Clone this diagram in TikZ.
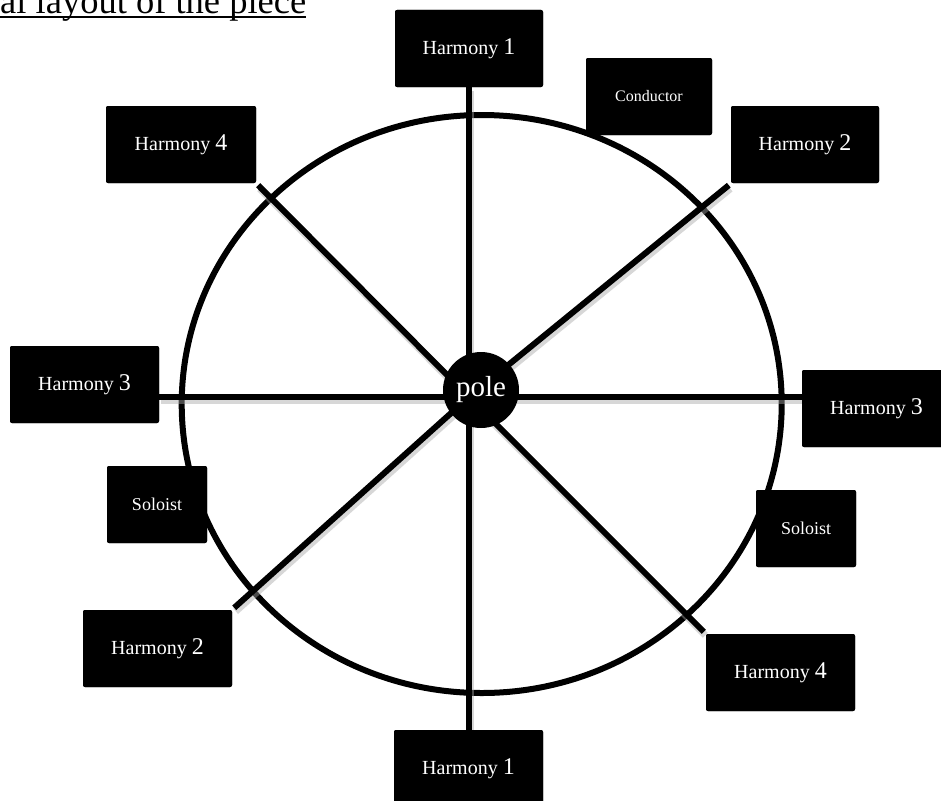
\documentclass[tikz,border=0pt]{standalone}
\usepackage{fontspec}
\setmainfont{Liberation Serif}
\begin{document}
\begin{tikzpicture}[x=1pt,y=-1pt,
  box/.style={fill=black, text=white, rounded corners=2pt, inner sep=0pt,
    minimum height=77pt, font=\fontsize{20}{22}\selectfont},
  hbox/.style={box, minimum width=149pt},
  spoke/.style={line width=6pt,
    preaction={draw=black!35, opacity=0.45, line width=7pt,
      transform canvas={xshift=1.5pt, yshift=-3.5pt}}},
  ring/.style={line width=6pt},
  polenode/.style={circle, fill=black, text=white, minimum size=76pt, inner sep=0pt,
    font=\fontsize{29}{30}\selectfont}]
\useasboundingbox (0,0) rectangle (941,800);
\clip (0,0) rectangle (941,800);
\newcommand{\hm}[1]{Harmony {\fontsize{24}{24}\selectfont #1}}

% title
\node[anchor=base west, inner sep=0pt, font=\fontsize{36.5}{38}\selectfont] (title) at (0,13.2) {al layout of the piece};
\draw[line width=1.4pt] ([yshift=-3.8pt]title.base west) -- ([yshift=-3.8pt]title.base east);

% meeting point of the spokes
\coordinate (m) at (469,397);

% ring
\draw[ring] (481.7,404) ellipse [x radius=300, y radius=289];

% boxes (placed first for anchors, redrawn on top later)
\path
  (469,48.5)    node[hbox, minimum width=148pt] (h1t) {}
  (649,96.5)    node[box, minimum width=126pt] (cond) {}
  (181,144.5)   node[hbox, minimum width=150pt] (h4tl) {}
  (805,144.5)   node[hbox, minimum width=148pt] (h2tr) {}
  (84.5,384.5)  node[hbox] (h3l) {}
  (157,504.5)   node[box, minimum width=100pt] (soll) {}
  (876.5,408.5) node[hbox] (h3r) {}
  (806,528.5)   node[box, minimum width=100pt] (solr) {}
  (157.5,648.5) node[hbox] (h2bl) {}
  (780.5,672.5) node[hbox] (h4br) {}
  (468.5,768.5) node[hbox] (h1b) {};

% spokes
\draw[spoke] (m) -- (m |- h1t.south);
\draw[spoke] (m) -- (m |- h1b.north);
\draw[spoke] (m) -- (m -| h3l.east);
\draw[spoke] (m) -- (m -| h3r.west);
\draw[spoke] (m) -- ([shift={(2pt,-2pt)}]h4tl.south east);
\draw[spoke] (m) -- ([shift={(-2pt,-2pt)}]h2tr.south west);
\draw[spoke] (m) -- ([shift={(2pt,2pt)}]h2bl.north east);
\draw[spoke] (m) -- ([shift={(-2pt,2pt)}]h4br.north west);

% boxes with text on top
\node[hbox, minimum width=148pt] at (h1t) {\hm{1}};
\node[box, minimum width=126pt, font=\fontsize{16}{18}\selectfont] at (cond) {Conductor};
\node[hbox, minimum width=150pt] at (h4tl) {\hm{4}};
\node[hbox, minimum width=148pt] at (h2tr) {\hm{2}};
\node[hbox] at (h3l) {\hm{3}};
\node[box, minimum width=100pt, font=\fontsize{18}{20}\selectfont] at (soll) {Soloist};
\node[hbox] at (h3r) {\hm{3}};
\node[box, minimum width=100pt, font=\fontsize{18}{20}\selectfont] at (solr) {Soloist};
\node[hbox] at (h2bl) {\hm{2}};
\node[hbox] at (h4br) {\hm{4}};
\node[hbox] at (h1b) {\hm{1}};

% pole
\node[polenode] (pole) at (481,390) {pole};
\end{tikzpicture}
\end{document}
